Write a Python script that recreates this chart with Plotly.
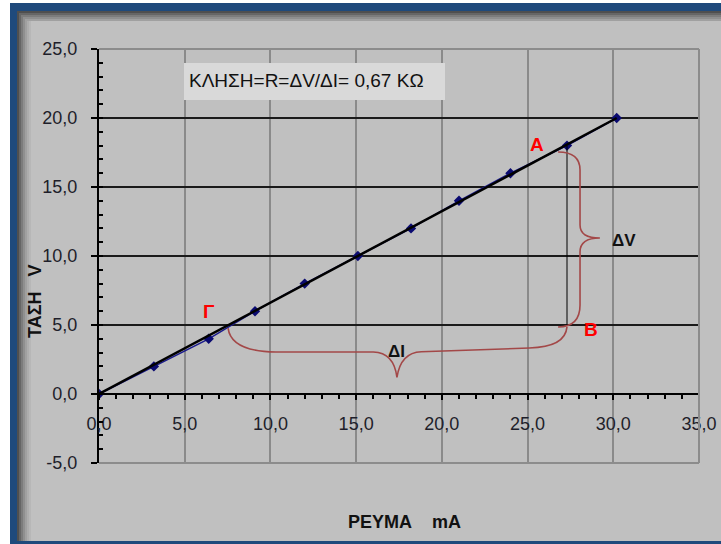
import numpy as np
import plotly.graph_objects as go

# ---------------- data ----------------
current_mA = [0.0, 3.2, 6.4, 9.1, 12.0, 15.1, 18.2, 21.0, 24.0, 27.3, 30.2]
voltage_V = [0.0, 2.0, 4.0, 6.0, 8.0, 10.0, 12.0, 14.0, 16.0, 18.0, 20.0]
x_tick_vals = [0, 5, 10, 15, 20, 25, 30, 35]
x_tick_text = ["0,0", "5,0", "10,0", "15,0", "20,0", "25,0", "30,0", "35,0"]
y_tick_vals = [-5, 0, 5, 10, 15, 20, 25]
y_tick_text = ["-5,0", "0,0", "5,0", "10,0", "15,0", "20,0", "25,0"]
info_text = "ΚΛΗΣΗ=R=ΔV/ΔI= 0,67 KΩ"
x_title = "ΡΕΥΜΑ\u00a0\u00a0\u00a0\u00a0mA"
y_title = "ΤΑΣΗ\u00a0\u00a0\u00a0V"

# plot-area geometry in pixels (for paper-coordinate decorations)
W, H = 721, 544
L, R, T, B = 99, 22, 49, 81
PW, PH = W - L - R, H - T - B


def px(xp):
    return (xp - L) / PW


def py(yp):
    return (H - B - yp) / PH


# least-squares line through origin (trendline)
xa = np.array(current_mA)
ya = np.array(voltage_V)
slope = float((xa * ya).sum() / (xa * xa).sum())
fit_x = [0.0, float(xa.max())]
fit_y = [slope * v for v in fit_x]

fig = go.Figure()
fig.add_trace(go.Scatter(
    x=current_mA, y=voltage_V, mode="lines+markers",
    line=dict(color="#1a1a8c", width=1.5),
    marker=dict(symbol="diamond", size=8, color="#0a0a70"),
    showlegend=False, hoverinfo="skip"))
fig.add_trace(go.Scatter(
    x=fit_x, y=fit_y, mode="lines",
    line=dict(color="#000000", width=2.5),
    showlegend=False, hoverinfo="skip"))

shapes = []
# frame: white outer strip, blue border, drop shadow
shapes.append(dict(type="rect", xref="paper", yref="paper", layer="below",
                   x0=px(0), x1=px(10), y0=py(H), y1=py(0),
                   fillcolor="#ffffff", line_width=0))
shapes.append(dict(type="rect", xref="paper", yref="paper", layer="below",
                   x0=px(0), x1=px(W), y0=py(3), y1=py(0),
                   fillcolor="#ffffff", line_width=0))
shapes.append(dict(type="rect", xref="paper", yref="paper", layer="below",
                   x0=px(10), x1=px(17), y0=py(H), y1=py(3),
                   fillcolor="#1f4a7c", line_width=0))
shapes.append(dict(type="rect", xref="paper", yref="paper", layer="below",
                   x0=px(10), x1=px(W), y0=py(11), y1=py(3),
                   fillcolor="#1f4a7c", line_width=0))
shapes.append(dict(type="rect", xref="paper", yref="paper", layer="below",
                   x0=px(10), x1=px(W), y0=py(H), y1=py(541),
                   fillcolor="#1f4a7c", line_width=0))
shade = ["#4f4f4f", "#666666", "#7c7c7c", "#8f8f8f", "#a0a0a0", "#adadad", "#b7b7b7"]
for i, c in enumerate(shade):
    shapes.append(dict(type="rect", xref="paper", yref="paper", layer="below",
                       x0=px(17 + 2 * i), x1=px(19 + 2 * i), y0=py(541), y1=py(11),
                       fillcolor=c, line_width=0))
for i, c in enumerate(shade[:5]):
    shapes.append(dict(type="rect", xref="paper", yref="paper", layer="below",
                       x0=px(17 + 2 * i), x1=px(W), y0=py(13 + 2 * i), y1=py(11 + 2 * i),
                       fillcolor=c, line_width=0))

# plot border (gray) on top, right, bottom
for (x0, x1, y0, y1) in [(0, 1, 1, 1), (0, 1, 0, 0), (1, 1, 0, 1)]:
    shapes.append(dict(type="line", xref="paper", yref="paper", layer="above",
                       x0=x0, x1=x1, y0=y0, y1=y1,
                       line=dict(color="#8c8c8c", width=2)))

# info box
shapes.append(dict(type="rect", xref="paper", yref="paper", layer="above",
                   x0=px(184), x1=px(445), y0=py(100), y1=py(63),
                   fillcolor="#d9d9d9", line_width=0))

# vertical drop line from A down to the 5 V level
shapes.append(dict(type="line", xref="x", yref="y", layer="above",
                   x0=current_mA[9], x1=current_mA[9], y0=voltage_V[9], y1=5,
                   line=dict(color="#000000", width=1)))

brace_col = "#a34848"
# horizontal brace (ΔI)
shapes.append(dict(type="path", xref="x", yref="y", layer="above",
                   path="M 7.53,4.78 Q 7.7,3.1 10.3,3.04 L 16.0,3.04 "
                        "Q 17.2,3.0 17.38,1.2 Q 17.6,3.0 18.8,3.06 "
                        "L 25.1,3.33 Q 27.2,3.4 27.3,4.86",
                   line=dict(color=brace_col, width=1.6)))
# vertical brace (ΔV)
shapes.append(dict(type="path", xref="x", yref="y", layer="above",
                   path="M 26.78,17.54 Q 28.06,17.54 28.06,16.23 L 28.06,12.25 "
                        "Q 28.06,11.3 29.22,11.3 Q 28.06,11.3 28.06,10.29 "
                        "L 28.06,6.45 Q 28.06,4.86 26.78,4.86",
                   line=dict(color=brace_col, width=1.6)))

annotations = [
    dict(xref="paper", yref="paper", x=px(187), y=py(80), xanchor="left", yanchor="middle",
         text=info_text, showarrow=False,
         font=dict(family="Liberation Sans, Arial", size=19, color="#111111")),
    dict(xref="x", yref="y", x=25.55, y=18.05, text="<b>A</b>", showarrow=False,
         font=dict(family="Liberation Sans, Arial", size=19, color="#ff0000")),
    dict(xref="x", yref="y", x=28.7, y=4.7, text="<b>B</b>", showarrow=False,
         font=dict(family="Liberation Sans, Arial", size=19, color="#ff0000")),
    dict(xref="x", yref="y", x=6.42, y=6.0, text="<b>Γ</b>", showarrow=False,
         font=dict(family="Liberation Sans, Arial", size=19, color="#ff0000")),
    dict(xref="x", yref="y", x=30.65, y=11.1, text="<b>ΔV</b>", showarrow=False,
         font=dict(family="Liberation Sans, Arial", size=17, color="#111111")),
    dict(xref="x", yref="y", x=17.33, y=3.05, text="<b>ΔI</b>", showarrow=False,
         font=dict(family="Liberation Sans, Arial", size=17, color="#111111")),
    dict(xref="paper", yref="paper", x=px(404), y=py(522), text="<b>" + x_title + "</b>",
         showarrow=False, xanchor="center", yanchor="middle",
         font=dict(family="Liberation Sans, Arial", size=18, color="#111111")),
    dict(xref="paper", yref="paper", x=px(35), y=py(302), text="<b>" + y_title + "</b>",
         showarrow=False, xanchor="center", yanchor="middle", textangle=-90,
         font=dict(family="Liberation Sans, Arial", size=18, color="#111111")),
]

tick_font = dict(family="Liberation Sans, Arial", size=18, color="#1e1e2a")

fig.update_layout(
    width=W, height=H,
    margin=dict(l=L, r=R, t=T, b=B, pad=0, autoexpand=False),
    paper_bgcolor="#c0c0c0", plot_bgcolor="#c0c0c0",
    showlegend=False,
    shapes=shapes, annotations=annotations,
    xaxis=dict(range=[0, 35], tickmode="array", tickvals=x_tick_vals, ticktext=x_tick_text,
               anchor="free", position=1 / 6, automargin=False,
               showline=True, linecolor="#000000", linewidth=2,
               ticks="outside", ticklen=5, tickwidth=2, tickcolor="#000000",
               ticklabelstandoff=8,
               minor=dict(dtick=1, ticks="outside", ticklen=4, tickwidth=2,
                          tickcolor="#000000", showgrid=False),
               showgrid=True, gridcolor="#8a8a8a", gridwidth=1.5,
               zeroline=False, tickfont=tick_font, fixedrange=True),
    yaxis=dict(range=[-5, 25], tickmode="array", tickvals=y_tick_vals, ticktext=y_tick_text,
               automargin=False,
               showline=True, linecolor="#000000", linewidth=2,
               ticks="outside", ticklen=6, tickwidth=2, tickcolor="#000000",
               ticklabelstandoff=10,
               minor=dict(dtick=1, ticks="inside", ticklen=4, tickwidth=2,
                          tickcolor="#000000", showgrid=False),
               showgrid=True, gridcolor="#1a1a1a", gridwidth=2,
               zeroline=False, tickfont=tick_font, fixedrange=True),
)

fig.write_html("out.html", config={"displayModeBar": False},
               post_script="document.body.style.margin='0';"
                           "document.body.style.overflow='hidden';")
